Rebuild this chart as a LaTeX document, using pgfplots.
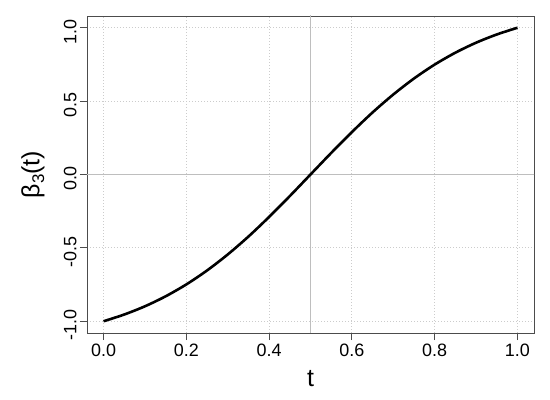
\documentclass[border=0pt]{standalone}
\usepackage{pgfplots}
\pgfplotsset{compat=1.18}
\usepackage{fontspec}
\setmainfont{Liberation Sans}
\definecolor{gridc}{HTML}{CCCCCC}
\definecolor{refc}{HTML}{BEBEBE}
\begin{document}
\begin{tikzpicture}
\begin{axis}[
  at={(0,0)}, anchor=south west,
  scale only axis, width=447bp, height=317bp,
  xmin=-0.04, xmax=1.04, ymin=-1.08, ymax=1.08,
  xtick={0,0.2,0.4,0.6,0.8,1},
  xticklabels={0.0,0.2,0.4,0.6,0.8,1.0},
  ytick={-1,-0.5,0,0.5,1},
  yticklabels={-1.0,-0.5,0.0,0.5,1.0},
  tick align=outside, xtick pos=bottom, ytick pos=left,
  major tick length=7bp,
  tick style={black!70, line width=0.8bp},
  axis line style={black!70, line width=0.8bp},
  grid=major,
  major grid style={gridc, line width=0.8bp, dash pattern=on 1bp off 2bp},
  ticklabel style={font=\fontsize{18}{20}\selectfont},
  yticklabel style={rotate=90, anchor=south, xshift=-4bp},
  xlabel={t}, ylabel={β\raisebox{-0.35ex}{\fontsize{17}{17}\selectfont 3}(t)},
  label style={font=\fontsize{25}{28}\selectfont},
  xlabel style={at={(axis description cs:0.5,-0.1451)}, anchor=center},
  ylabel style={at={(axis description cs:-0.1208,0.5)}, anchor=center},
]
\addplot[refc, line width=1bp, forget plot] coordinates {(0.5,-1.2) (0.5,1.2)};
\addplot[refc, line width=1bp, forget plot] coordinates {(-0.1,0) (1.1,0)};
\addplot[black, line width=2.6bp, smooth] coordinates {
(0,-1) (0.05,-0.954) (0.1,-0.898) (0.15,-0.830) (0.2,-0.749) (0.25,-0.654)
(0.3,-0.545) (0.35,-0.423) (0.4,-0.289) (0.45,-0.147) (0.5,0)
(0.55,0.147) (0.6,0.289) (0.65,0.423) (0.7,0.545) (0.75,0.654)
(0.8,0.749) (0.85,0.830) (0.9,0.898) (0.95,0.954) (1,1)};
\end{axis}
\path[use as bounding box] (-87bp,-67bp) rectangle (463bp,333bp);
\end{tikzpicture}
\end{document}
